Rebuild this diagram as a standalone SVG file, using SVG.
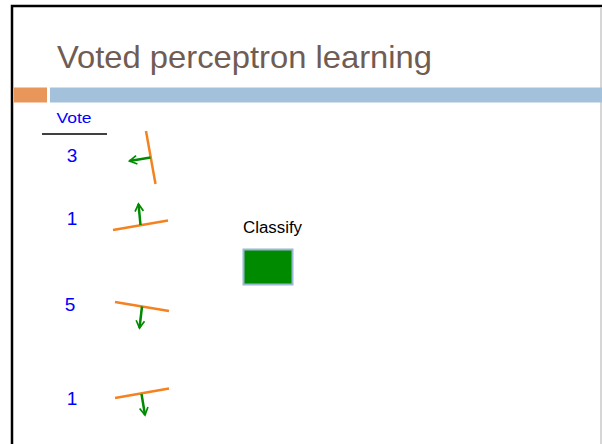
<svg xmlns="http://www.w3.org/2000/svg" width="602" height="444" viewBox="0 0 602 444">
<style>
.num{font-family:"Liberation Sans",Arial,sans-serif;font-size:19px;fill:#0000ff;text-anchor:middle}
.sep{stroke:#f58220;stroke-width:2.5;fill:none}
.w{stroke:#008a00;stroke-width:2.5;fill:none;marker-end:url(#ah)}
</style>
<defs>
<marker id="ah" viewBox="0 0 10 10" refX="8.5" refY="5" markerWidth="4.2" markerHeight="4.2" orient="auto" markerUnits="strokeWidth">
<path d="M1.5,1 L8.5,5 L1.5,9" fill="none" stroke="#008a00" stroke-width="1.6"/>
</marker>
</defs>
<rect x="0" y="0" width="602" height="444" fill="#ffffff"/>
<path d="M12,444 V6 H602" fill="none" stroke="#000" stroke-width="2.5"/>
<line x1="601" y1="7" x2="601" y2="444" stroke="#c8c8c8" stroke-width="1.5"/>
<g id="title">
<text x="57" y="68" font-family="Liberation Sans,Arial,sans-serif" font-size="32" fill="#705c53" textLength="375" lengthAdjust="spacingAndGlyphs">Voted perceptron learning</text>
</g>
<g id="bars">
<rect x="14" y="87.5" width="33" height="15" fill="#e8965a"/>
<rect x="50" y="87.5" width="552" height="15" fill="#a3c1db"/>
</g>
<g id="vote-header">
<text x="74" y="123" font-family="Liberation Sans,Arial,sans-serif" font-size="15" fill="#0000ff" text-anchor="middle" textLength="35" lengthAdjust="spacingAndGlyphs">Vote</text>
<line x1="42" y1="134" x2="107" y2="134" stroke="#000" stroke-width="1.5"/>
</g>
<g id="perceptron1">
<text class="num" x="72" y="162">3</text>
<line class="sep" x1="146" y1="131" x2="155.5" y2="184"/>
<line class="w" x1="150.5" y1="157.5" x2="129.5" y2="161"/>
</g>
<g id="perceptron2">
<text class="num" x="72" y="225">1</text>
<line class="sep" x1="113" y1="230" x2="168" y2="220.5"/>
<line class="w" x1="140.5" y1="225" x2="138.5" y2="204"/>
</g>
<g id="perceptron3">
<text class="num" x="70" y="311">5</text>
<line class="sep" x1="115" y1="302" x2="169" y2="311"/>
<line class="w" x1="142" y1="306.5" x2="139.5" y2="328"/>
</g>
<g id="perceptron4">
<text class="num" x="72" y="405">1</text>
<line class="sep" x1="115" y1="398" x2="169" y2="388.5"/>
<line class="w" x1="141.5" y1="394" x2="145" y2="415"/>
</g>
<g id="classify">
<text x="243" y="233" font-family="Liberation Sans,Arial,sans-serif" font-size="16" fill="#000" textLength="59" lengthAdjust="spacingAndGlyphs">Classify</text>
<rect x="243.5" y="249.5" width="49" height="35" fill="#008a00" stroke="#9ab8d4" stroke-width="2"/>
</g>
</svg>
